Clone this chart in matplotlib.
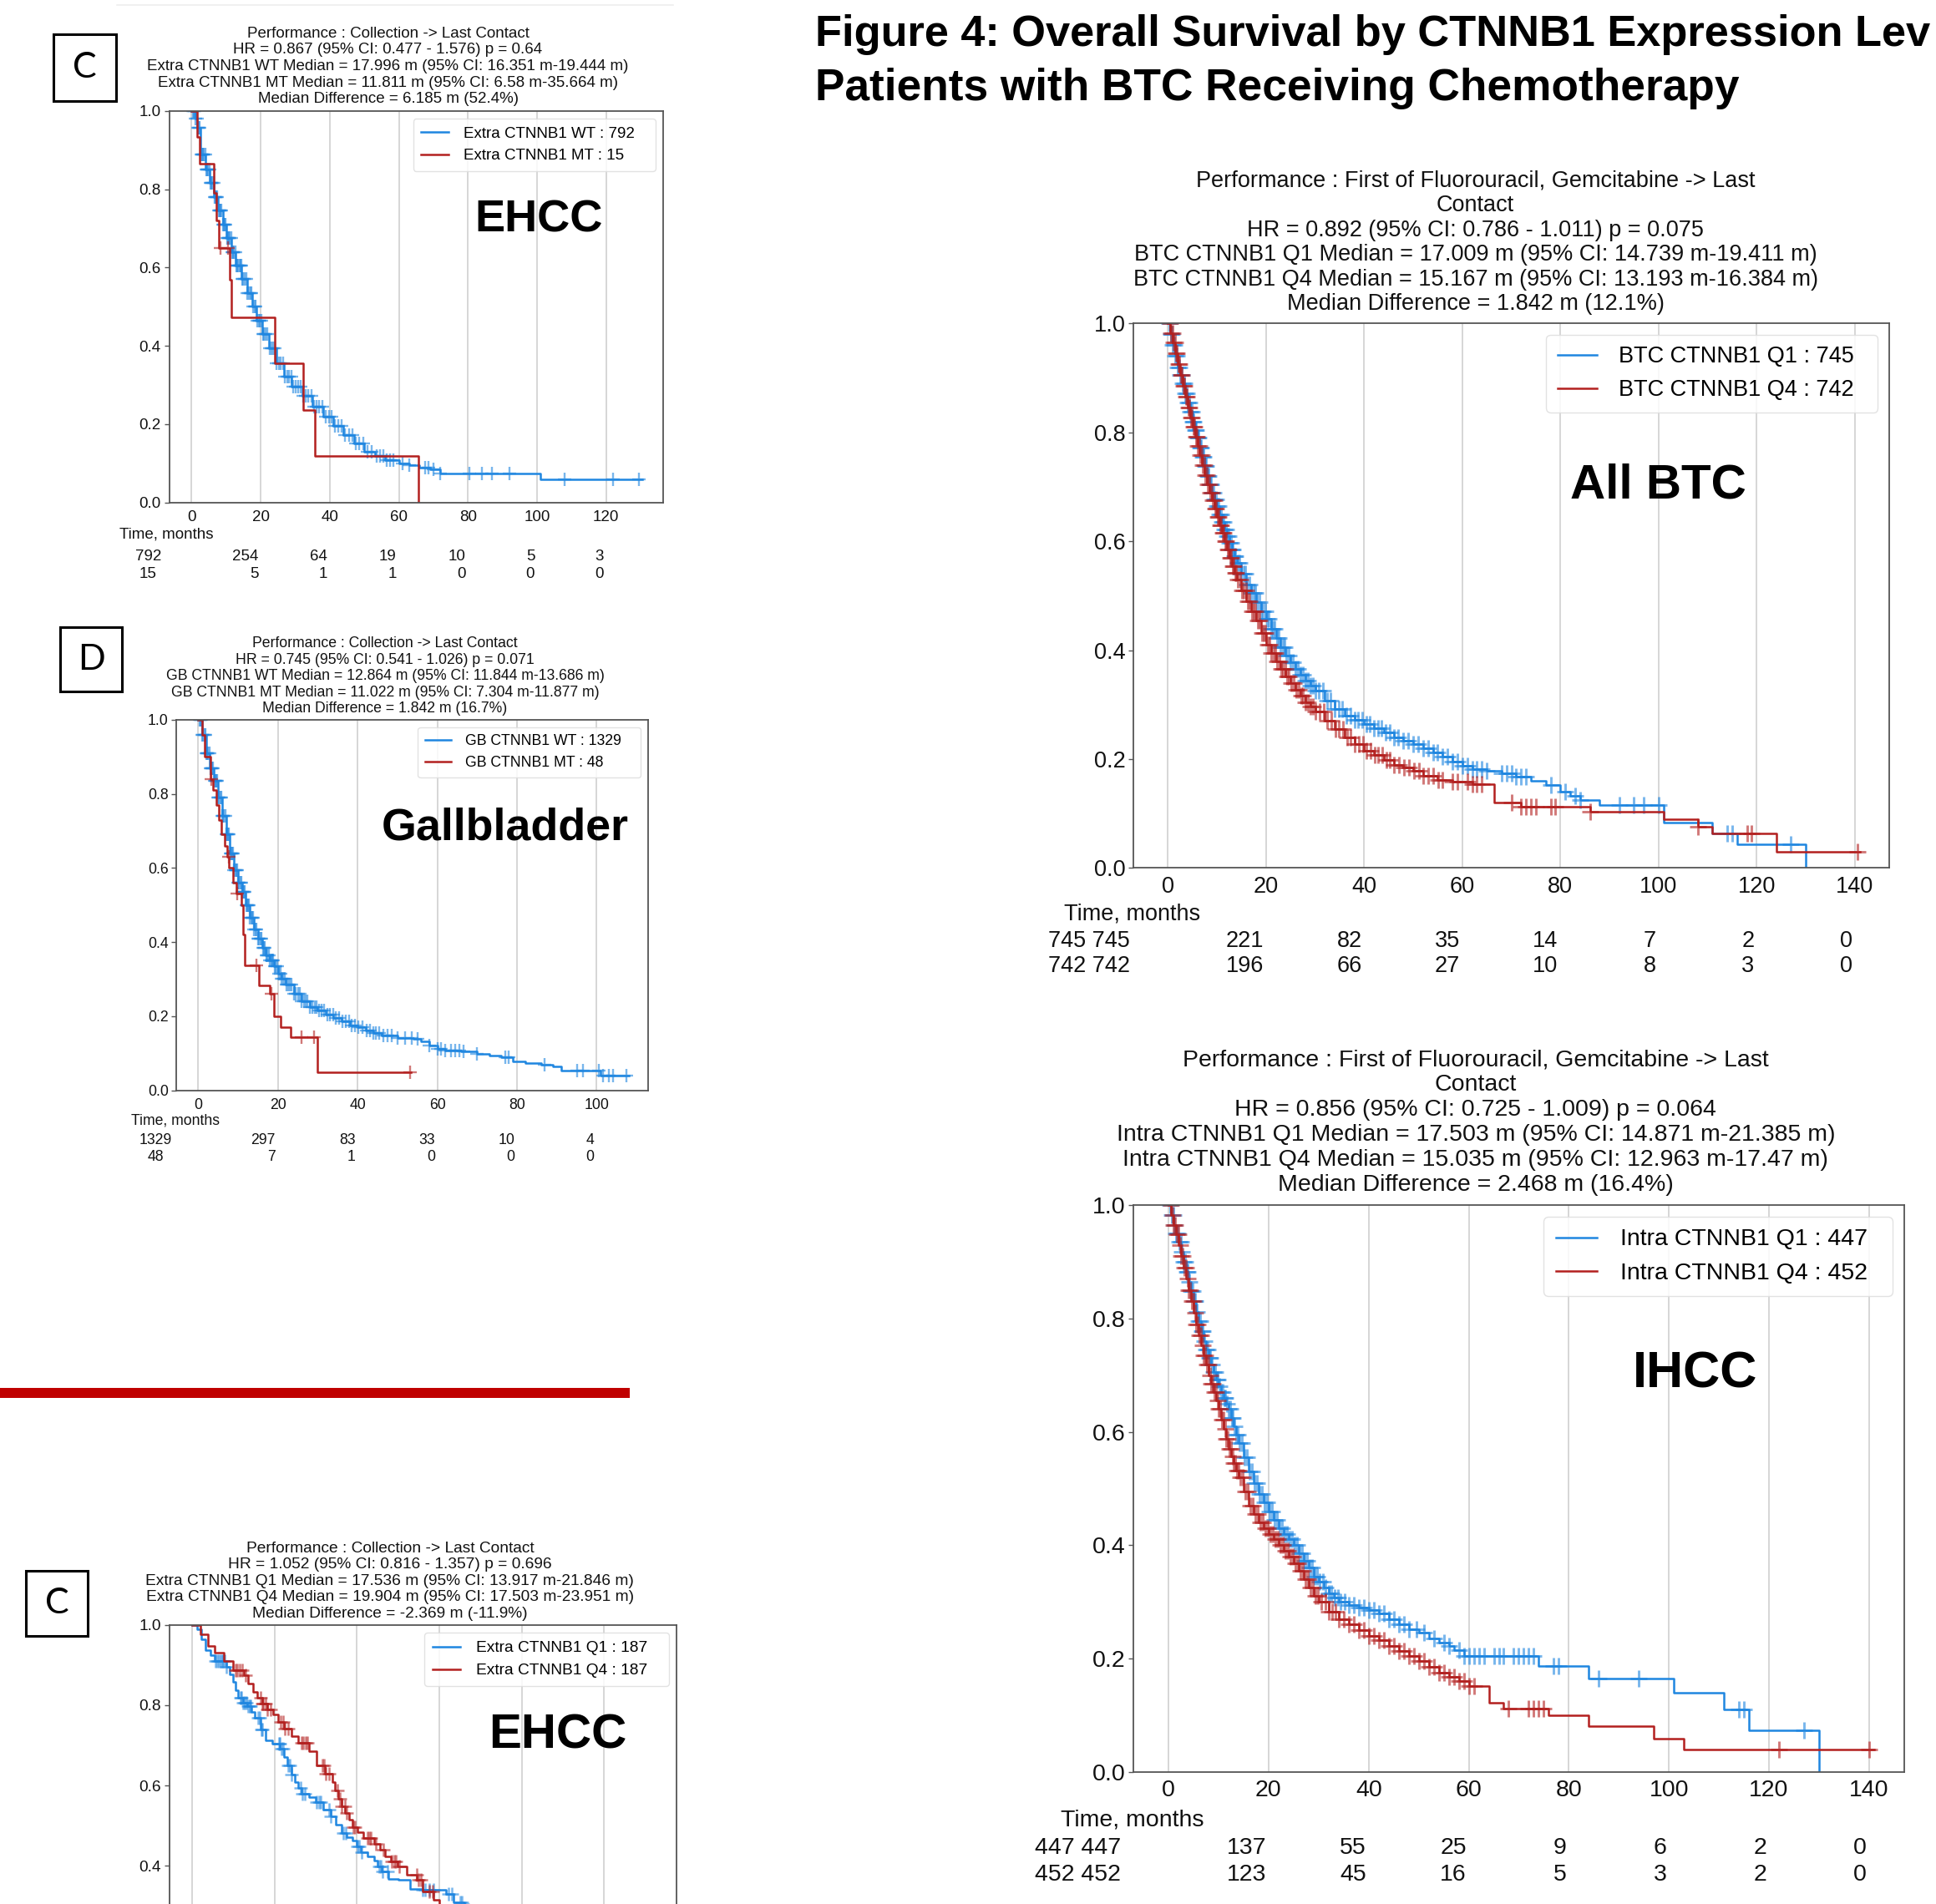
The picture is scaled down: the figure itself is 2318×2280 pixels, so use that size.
import numpy as np
import matplotlib
matplotlib.use("Agg")
import matplotlib.pyplot as plt
import matplotlib.transforms as mtransforms
from matplotlib.patches import Rectangle
from matplotlib.lines import Line2D
from matplotlib.ticker import FormatStrFormatter

plt.rcParams['font.family'] = ['Liberation Sans', 'DejaVu Sans']

BLUE = '#1f86e0'
RED = '#b3201f'

# ---------------- data ----------------
# Top-left: EHCC, CTNNB1 WT vs MT
ehcc_wt_t = [0, 1, 1.6, 2.6, 4, 5.2, 6.5, 7.6, 9, 10, 11.5, 12.8, 14.5, 16, 17.5, 18.8, 20.5, 22.4,
             24.5, 26.8, 29, 32, 35, 38, 41, 44, 47, 50, 53, 56, 60, 63, 66, 69, 72, 101]
ehcc_wt_s = [1.0, 0.98, 0.958, 0.888, 0.85, 0.817, 0.78, 0.746, 0.71, 0.676, 0.64, 0.605, 0.57, 0.534,
             0.50, 0.464, 0.43, 0.393, 0.355, 0.322, 0.295, 0.272, 0.245, 0.22, 0.195, 0.172, 0.15, 0.13,
             0.118, 0.108, 0.10, 0.096, 0.09, 0.085, 0.073, 0.059]
ehcc_wt_end = 130.5
ehcc_wt_cens = [0.3, 0.6, 0.9, 1.2, 1.5, 1.8, 2.1, 2.4, 2.7, 3.0, 3.3, 3.6, 3.9, 4.2, 4.5, 4.8, 5.1, 5.4,
                5.7, 6.0, 6.3, 6.6, 6.9, 7.2, 7.5, 7.8, 8.1, 8.4, 8.7, 9.0, 9.3, 9.6, 9.9, 10.2, 10.5,
                10.8, 11.1, 11.4, 11.7, 12.0, 12.3, 12.6, 12.9, 13.2, 13.5, 13.8, 14.1, 14.4, 14.7, 15.0,
                15.4, 15.8, 16.2, 16.6, 17.0, 17.4, 17.8, 18.2, 18.6, 19.0, 19.4, 19.8, 20.2, 20.6, 21.0,
                21.5, 22.0, 22.5, 23.0, 23.5, 24.0, 24.6, 25.2, 25.8, 26.4, 27.0, 27.6, 28.2, 28.8, 29.5,
                30.2, 30.9, 31.6, 32.3, 33.0, 33.8, 34.6, 35.4, 36.2, 37.0, 37.9, 38.8, 39.7, 40.6, 41.5,
                42.5, 43.5, 44.5, 45.5, 46.5, 47.5, 48.6, 49.7, 51.0, 52.2, 53.5, 54.5, 55.5, 56.5, 57.5,
                58.5, 61.0, 63.0, 67.5, 68.5, 70.0, 72.0, 80.5, 84.0, 87.0, 92.0, 108.0, 122.0, 129.5]
ehcc_mt_t = [0, 1.5, 2.2, 6.4, 7.2, 7.8, 11.0, 11.6, 24.0, 32.2, 35.6, 65.7]
ehcc_mt_s = [1.0, 0.933, 0.865, 0.79, 0.72, 0.65, 0.568, 0.473, 0.356, 0.237, 0.118, 0.0]
ehcc_mt_end = 65.7
ehcc_mt_cens = [8.3, 10.5]
ehcc_ticks = [0, 20, 40, 60, 80, 100, 120]
ehcc_wt_risk = [792, 254, 64, 19, 10, 5, 3]
ehcc_mt_risk = [15, 5, 1, 1, 0, 0, 0]

# Gallbladder, CTNNB1 WT vs MT
gb_wt_t = [0, 1, 2, 3, 4, 5, 6, 7, 8, 9, 10, 11, 12, 13, 14, 15, 16, 17, 18, 19, 20, 21, 22, 24, 26, 28,
           30, 32, 34, 36, 38, 40, 42, 44, 46, 50, 54, 56, 58, 60, 62, 66, 70, 73, 76, 79, 82, 86, 89,
           91, 101]
gb_wt_s = [1.0, 0.96, 0.91, 0.87, 0.835, 0.79, 0.74, 0.69, 0.64, 0.595, 0.56, 0.535, 0.5, 0.465, 0.435,
           0.41, 0.385, 0.365, 0.35, 0.335, 0.315, 0.30, 0.285, 0.26, 0.24, 0.225, 0.215, 0.205, 0.195,
           0.185, 0.175, 0.17, 0.162, 0.155, 0.148, 0.142, 0.138, 0.132, 0.12, 0.112, 0.107, 0.104, 0.098,
           0.093, 0.088, 0.078, 0.073, 0.068, 0.064, 0.054, 0.039]
gb_wt_end = 108
gb_wt_cens = [0.3, 0.55, 0.8, 1.05, 1.3, 1.55, 1.8, 2.05, 2.3, 2.55, 2.8, 3.05, 3.3, 3.55, 3.8, 4.05, 4.3,
              4.55, 4.8, 5.05, 5.3, 5.55, 5.8, 6.05, 6.3, 6.55, 6.8, 7.05, 7.3, 7.55, 7.8, 8.05, 8.3, 8.55,
              8.8, 9.05, 9.3, 9.55, 9.8, 10.05, 10.3, 10.55, 10.8, 11.05, 11.3, 11.55, 11.8, 12.05, 12.3,
              12.55, 12.8, 13.05, 13.3, 13.55, 13.8, 14.1, 14.4, 14.7, 15.0, 15.3, 15.6, 15.9, 16.2, 16.5,
              16.8, 17.1, 17.4, 17.7, 18.0, 18.3, 18.6, 18.9, 19.2, 19.5, 19.8, 20.2, 20.6, 21.0, 21.4,
              21.8, 22.2, 22.6, 23.0, 23.5, 24.0, 24.5, 25.0, 25.5, 26.0, 26.5, 27.0, 27.5, 28.0, 28.6,
              29.2, 29.8, 30.4, 31.0, 31.7, 32.4, 33.1, 33.8, 34.6, 35.4, 36.2, 37.0, 37.8, 38.6, 39.4,
              40.2, 41.2, 42.2, 43.2, 44.0, 44.6, 45.5, 46.5, 47.5, 48.5, 50.0, 52.0, 53.5, 55.0, 58.0,
              60.0, 61.0, 62.0, 63.5, 64.5, 65.5, 66.5, 70.0, 77.0, 78.0, 87.0, 95.0, 96.5, 100.5, 101.5,
              103.0, 104.0, 107.5]
gb_mt_t = [0, 1.0, 1.7, 3.2, 3.7, 4.5, 5.2, 5.9, 6.6, 7.4, 7.8, 8.8, 9.5, 10.8, 11.3, 11.7, 15.3, 18.0,
           19.0, 20.8, 23.2, 30.0]
gb_mt_s = [1.0, 0.96, 0.90, 0.84, 0.81, 0.77, 0.73, 0.69, 0.66, 0.63, 0.60, 0.56, 0.53, 0.50, 0.42,
           0.336, 0.284, 0.26, 0.20, 0.17, 0.144, 0.049]
gb_mt_end = 53.4
gb_mt_cens = [3.3, 7.7, 9.9, 14.6, 18.3, 26.0, 29.0, 53.2]
gb_ticks = [0, 20, 40, 60, 80, 100]
gb_wt_risk = [1329, 297, 83, 33, 10, 4]
gb_mt_risk = [48, 7, 1, 0, 0, 0]

# Bottom-left: EHCC, CTNNB1 Q1 vs Q4
eq1_t = [0, 1.1, 2.2, 3.3, 4.4, 5.5, 8.2, 9.0, 9.9, 10.5, 11.2, 12.3, 13.4, 14.3, 15.2, 16.5, 17.8, 19.5,
         21.3, 22.2, 23.1, 24.0, 24.8, 25.7, 26.6, 28.3, 30.0, 31.8, 33.6, 34.9, 36.2, 37.5, 38.9, 40.0,
         41.0, 42.5, 44.1, 45.0, 45.9, 47.6, 50.0, 52.9, 56, 61.7, 63.4, 66.0]
eq1_s = [1.0, 0.99, 0.965, 0.937, 0.925, 0.91, 0.896, 0.876, 0.857, 0.838, 0.818, 0.806, 0.797, 0.783,
         0.769, 0.74, 0.713, 0.703, 0.692, 0.67, 0.65, 0.628, 0.608, 0.594, 0.58, 0.57, 0.559, 0.54, 0.524,
         0.503, 0.482, 0.472, 0.462, 0.448, 0.434, 0.423, 0.413, 0.399, 0.385, 0.367, 0.364, 0.343, 0.34,
         0.329, 0.308, 0.29]
eq1_end = 70
eq1_cens = [5.6, 6.0, 6.4, 6.8, 7.2, 7.5, 7.9, 8.3, 11.8, 12.0, 12.4, 12.8, 13.1, 13.5, 13.9, 14.2, 16.0,
            16.3, 16.7, 17.0, 21.0, 21.2, 21.6, 22.0, 23.3, 23.7, 24.0, 26.3, 26.8, 27.3, 30.2, 30.7,
            31.2, 33.2, 33.6, 36.7, 37.2, 40.2, 40.6, 41.2, 45.4, 45.8, 46.2, 47.5, 56.0, 56.5, 57.5,
            58.5, 62.2, 63.0, 65.0, 65.5, 66.0, 67.0]
eq4_t = [0, 2.0, 3.8, 5.5, 7.7, 9.9, 12.5, 13.6, 14.7, 15.8, 16.9, 18.3, 19.6, 20.9, 22.2, 24.0, 25.7,
         28.3, 30.1, 32.3, 34.0, 34.7, 35.4, 36.3, 37.1, 38.0, 38.9, 40.2, 41.5, 44.1, 45.5, 46.8, 48.3,
         49.8, 52.0, 54.6, 55.9, 58.6, 60.0]
eq4_s = [1.0, 0.976, 0.948, 0.93, 0.91, 0.888, 0.874, 0.853, 0.832, 0.818, 0.804, 0.79, 0.776, 0.758,
         0.741, 0.723, 0.706, 0.685, 0.65, 0.629, 0.608, 0.587, 0.566, 0.548, 0.531, 0.514, 0.497, 0.483,
         0.469, 0.455, 0.44, 0.424, 0.411, 0.399, 0.378, 0.364, 0.336, 0.315, 0.29]
eq4_end = 64
eq4_cens = [10.6, 11.0, 11.6, 12.2, 13.0, 16.5, 16.9, 17.2, 17.8, 18.3, 19.0, 21.5, 22.0, 22.5, 23.2, 26.6,
            27.0, 27.5, 28.0, 31.5, 32.0, 32.5, 33.3, 35.2, 35.8, 36.3, 37.0, 37.5, 39.0, 39.4, 42.5,
            43.0, 43.3, 44.5, 46.3, 48.5, 49.0, 49.5, 50.3, 54.5, 55.0, 55.5, 57.5, 58.3]
eq_ticks = [0, 20, 40, 60, 80, 100]

# All BTC, CTNNB1 Q1 vs Q4
btc_q1_t = [0, 0.5, 1, 1.5, 2, 2.5, 3, 3.5, 4, 4.5, 5, 5.5, 6, 6.5, 7, 7.5, 8, 8.5, 9, 9.5, 10, 10.5,
            11, 11.5, 12, 12.5, 13, 13.5, 14, 15, 16, 17, 18, 19, 20, 21, 22, 23, 24, 25, 26, 27, 28, 29,
            30, 32, 34, 36, 38, 40, 42, 44, 46, 48, 50, 52, 54, 56, 58, 60, 62, 65, 68, 71, 74, 77, 80,
            82, 84, 88, 101, 111, 116, 130]
btc_q1_s = [1.0, 0.98, 0.96, 0.94, 0.92, 0.905, 0.89, 0.872, 0.855, 0.838, 0.82, 0.805, 0.79, 0.772,
            0.755, 0.738, 0.72, 0.705, 0.69, 0.677, 0.665, 0.65, 0.635, 0.622, 0.61, 0.597, 0.585, 0.572,
            0.56, 0.54, 0.52, 0.505, 0.488, 0.472, 0.458, 0.44, 0.422, 0.405, 0.39, 0.378, 0.366, 0.355,
            0.344, 0.335, 0.326, 0.308, 0.292, 0.28, 0.272, 0.265, 0.257, 0.249, 0.24, 0.234, 0.228, 0.22,
            0.212, 0.205, 0.195, 0.188, 0.182, 0.178, 0.174, 0.168, 0.16, 0.152, 0.14, 0.132, 0.125,
            0.116, 0.084, 0.064, 0.044, 0.0]
btc_q1_end = 130
btc_q1_cens = [0.3, 0.55, 0.8, 1.05, 1.3, 1.55, 1.8, 2.05, 2.3, 2.55, 2.8, 3.05, 3.3, 3.55, 3.8, 4.05,
               4.3, 4.55, 4.8, 5.05, 5.3, 5.55, 5.8, 6.05, 6.3, 6.55, 6.8, 7.05, 7.3, 7.55, 7.8, 8.05,
               8.3, 8.55, 8.8, 9.05, 9.3, 9.55, 9.8, 10.05, 10.3, 10.55, 10.8, 11.05, 11.3, 11.55, 11.8,
               12.05, 12.3, 12.55, 12.8, 13.05, 13.3, 13.55, 13.8, 14.2, 14.6, 15.0, 15.4, 15.8, 16.2,
               16.6, 17.0, 17.4, 17.8, 18.2, 18.6, 19.0, 19.4, 19.8, 20.2, 20.6, 21.0, 21.4, 21.8, 22.2,
               22.6, 23.0, 23.4, 23.8, 24.2, 24.6, 25.0, 25.5, 26.0, 26.5, 27.0, 27.5, 28.0, 28.5, 29.0,
               29.5, 30.0, 30.8, 31.6, 32.4, 33.2, 34.0, 34.8, 35.6, 36.4, 37.2, 38.0, 38.8, 39.6, 40.4,
               41.2, 42.0, 42.8, 43.6, 44.4, 45.2, 46.0, 47.0, 48.0, 49.0, 50.0, 51.0, 52.0, 53.0, 54.0,
               55.0, 56.0, 57.0, 58.0, 59.0, 60.0, 61, 62, 63, 64, 65, 68, 69, 70, 71, 72, 73, 78, 81,
               83, 84, 92, 95, 97, 100, 114, 115, 127]
btc_q4_t = [0, 0.5, 1, 1.5, 2, 2.5, 3, 3.5, 4, 4.5, 5, 5.5, 6, 6.5, 7, 7.5, 8, 8.5, 9, 9.5, 10, 10.5,
            11, 11.5, 12, 12.5, 13, 13.5, 14, 15, 16, 17, 18, 19, 20, 21, 22, 23, 24, 25, 26, 27, 28, 29,
            30, 32, 34, 36, 38, 40, 42, 44, 46, 48, 50, 52, 55, 58, 62, 66.5, 72, 86, 101, 108, 111, 124]
btc_q4_s = [1.0, 0.982, 0.965, 0.945, 0.925, 0.905, 0.885, 0.865, 0.845, 0.828, 0.81, 0.792, 0.775,
            0.758, 0.74, 0.722, 0.705, 0.69, 0.675, 0.66, 0.645, 0.63, 0.615, 0.60, 0.585, 0.57, 0.555,
            0.542, 0.53, 0.51, 0.49, 0.472, 0.455, 0.432, 0.41, 0.395, 0.38, 0.365, 0.352, 0.34, 0.328,
            0.316, 0.305, 0.296, 0.288, 0.27, 0.255, 0.24, 0.228, 0.216, 0.207, 0.198, 0.19, 0.184, 0.178,
            0.17, 0.162, 0.158, 0.154, 0.12, 0.112, 0.104, 0.09, 0.076, 0.064, 0.03]
btc_q4_end = 141
btc_q4_cens = [0.4, 0.65, 0.9, 1.15, 1.4, 1.65, 1.9, 2.15, 2.4, 2.65, 2.9, 3.15, 3.4, 3.65, 3.9, 4.15,
               4.4, 4.65, 4.9, 5.15, 5.4, 5.65, 5.9, 6.15, 6.4, 6.65, 6.9, 7.15, 7.4, 7.65, 7.9, 8.15,
               8.4, 8.65, 8.9, 9.15, 9.4, 9.65, 9.9, 10.15, 10.4, 10.65, 10.9, 11.15, 11.4, 11.65, 11.9,
               12.15, 12.4, 12.65, 12.9, 13.15, 13.4, 13.65, 13.9, 14.3, 14.7, 15.1, 15.5, 15.9, 16.3,
               16.7, 17.1, 17.5, 17.9, 18.3, 18.7, 19.1, 19.5, 19.9, 20.3, 20.7, 21.1, 21.5, 21.9, 22.3,
               22.7, 23.1, 23.5, 23.9, 24.3, 24.7, 25.1, 25.6, 26.1, 26.6, 27.1, 27.6, 28.1, 28.6, 29.1,
               29.6, 30.1, 30.9, 31.7, 32.5, 33.3, 34.1, 34.9, 35.7, 36.5, 37.3, 38.1, 38.9, 39.7, 40.5,
               41.3, 42.1, 42.9, 43.7, 44.5, 45.3, 46.1, 47.1, 48.1, 49.1, 50.1, 51.1, 52.1, 53.1, 54.1,
               55.1, 56, 58, 59, 61, 62, 63, 64, 70, 72, 73, 74, 75, 78, 79, 86, 108, 118, 119, 140.5]
btc_ticks = [0, 20, 40, 60, 80, 100, 120, 140]
btc_q1_risk = [745, 221, 82, 35, 14, 7, 2, 0]
btc_q4_risk = [742, 196, 66, 27, 10, 8, 3, 0]

# IHCC, CTNNB1 Q1 vs Q4
ih_q1_t = [0, 0.5, 1, 1.5, 2, 2.5, 3, 3.5, 4, 4.5, 5, 5.5, 6, 6.5, 7, 7.5, 8, 8.5, 9, 9.5, 10, 10.5, 11,
           11.5, 12, 12.5, 13, 13.5, 14, 15, 16, 17, 18, 19, 20, 21, 22, 23, 24, 25, 26, 27, 28, 29, 30,
           31, 32, 33, 34, 36, 38, 40, 42, 44, 46, 48, 50, 52, 54, 56, 57, 59, 74, 84, 101, 111, 116, 130]
ih_q1_s = [1.0, 0.982, 0.965, 0.95, 0.935, 0.918, 0.9, 0.882, 0.865, 0.848, 0.83, 0.812, 0.795, 0.778,
           0.76, 0.745, 0.73, 0.718, 0.705, 0.692, 0.68, 0.67, 0.66, 0.65, 0.64, 0.625, 0.61, 0.595, 0.58,
           0.555, 0.53, 0.51, 0.49, 0.475, 0.46, 0.445, 0.43, 0.42, 0.41, 0.40, 0.385, 0.372, 0.36, 0.345,
           0.335, 0.325, 0.315, 0.308, 0.30, 0.295, 0.29, 0.285, 0.28, 0.27, 0.26, 0.252, 0.245, 0.235,
           0.228, 0.222, 0.215, 0.205, 0.187, 0.165, 0.14, 0.11, 0.073, 0.0]
ih_q1_end = 130
ih_q1_cens = [0.3, 0.6, 0.9, 1.2, 1.5, 1.8, 2.1, 2.4, 2.7, 3.0, 3.3, 3.6, 3.9, 4.2, 4.5, 4.8, 5.1, 5.4,
              5.7, 6.0, 6.3, 6.6, 6.9, 7.2, 7.5, 7.8, 8.1, 8.4, 8.7, 9.0, 9.3, 9.6, 9.9, 10.2, 10.5, 10.8,
              11.1, 11.4, 11.7, 12.0, 12.3, 12.6, 12.9, 13.2, 13.5, 13.8, 14.2, 14.7, 15.2, 15.7, 16.2,
              16.7, 17.2, 17.7, 18.2, 18.7, 19.2, 19.7, 20.2, 20.7, 21.2, 21.7, 22.2, 22.7, 23.2, 23.7,
              24.2, 24.7, 25.2, 25.7, 26.2, 26.7, 27.2, 27.7, 28.2, 28.7, 29.2, 29.7, 30.2, 30.8, 31.4,
              32.0, 32.6, 33.2, 33.8, 34.4, 35.2, 36.0, 37.0, 38.0, 39.0, 40.0, 41.0, 42.0, 43.0, 44.0,
              45.0, 46.0, 47.0, 48.0, 49.5, 51.0, 53.0, 55, 56, 58, 59, 60, 61, 62, 63, 65, 66, 67, 69,
              70, 71, 72, 73, 77, 78, 86, 94, 114, 115, 127]
ih_q4_t = [0, 0.5, 1, 1.5, 2, 2.5, 3, 3.5, 4, 4.5, 5, 5.5, 6, 6.5, 7, 7.5, 8, 8.5, 9, 9.5, 10, 10.5, 11,
           11.5, 12, 12.5, 13, 13.5, 14, 15, 16, 17, 18, 19, 20, 21, 22, 23, 24, 25, 26, 27, 28, 29, 30,
           32, 34, 36, 38, 40, 42, 44, 46, 48, 50, 52, 54, 56, 58, 60, 64, 67, 76, 84, 97, 103]
ih_q4_s = [1.0, 0.982, 0.965, 0.948, 0.93, 0.91, 0.89, 0.87, 0.85, 0.83, 0.81, 0.79, 0.77, 0.752, 0.735,
           0.718, 0.70, 0.685, 0.67, 0.655, 0.64, 0.622, 0.605, 0.588, 0.57, 0.557, 0.545, 0.532, 0.52,
           0.495, 0.47, 0.455, 0.44, 0.43, 0.42, 0.41, 0.40, 0.39, 0.38, 0.368, 0.355, 0.34, 0.325, 0.31,
           0.30, 0.283, 0.27, 0.26, 0.25, 0.24, 0.232, 0.222, 0.213, 0.205, 0.195, 0.185, 0.175, 0.167,
           0.16, 0.152, 0.122, 0.112, 0.10, 0.08, 0.058, 0.04]
ih_q4_end = 141
ih_q4_cens = [0.45, 0.75, 1.05, 1.35, 1.65, 1.95, 2.25, 2.55, 2.85, 3.15, 3.45, 3.75, 4.05, 4.35, 4.65,
              4.95, 5.25, 5.55, 5.85, 6.15, 6.45, 6.75, 7.05, 7.35, 7.65, 7.95, 8.25, 8.55, 8.85, 9.15,
              9.45, 9.75, 10.05, 10.35, 10.65, 10.95, 11.25, 11.55, 11.85, 12.15, 12.45, 12.75, 13.05,
              13.35, 13.65, 13.95, 14.4, 14.9, 15.4, 15.9, 16.4, 16.9, 17.4, 17.9, 18.4, 18.9, 19.4,
              19.9, 20.4, 20.9, 21.4, 21.9, 22.4, 22.9, 23.4, 23.9, 24.4, 24.9, 25.4, 25.9, 26.4, 26.9,
              27.4, 27.9, 28.4, 28.9, 29.4, 29.9, 30.6, 31.3, 32.0, 32.7, 33.4, 34.1, 35.0, 36.0, 37.0,
              38.0, 39.0, 40.0, 41.0, 42.0, 43.0, 44.0, 45.0, 46.0, 47.0, 48.0, 49.0, 50, 51, 52, 53, 54,
              55, 56, 57, 58, 59, 60, 61, 68, 72, 73, 74, 75, 122, 140]
ih_ticks = [0, 20, 40, 60, 80, 100, 120, 140]
ih_q1_risk = [447, 137, 55, 25, 9, 6, 2, 0]
ih_q4_risk = [452, 123, 45, 16, 5, 3, 2, 0]

# ---------------- helpers ----------------
fig = plt.figure(figsize=(23.18, 22.80), dpi=100)


def km(ax, t, s, t_end, cens, color, label, ms, mew):
    t = np.asarray(t, float)
    s = np.asarray(s, float)
    x = np.append(t, t_end)
    y = np.append(s, s[-1])
    ax.step(x, y, where='post', color=color, lw=1.8, label=label)
    c = np.asarray(cens, float)
    cy = s[np.searchsorted(t, c, side='right') - 1]
    ax.plot(c, cy, ls='none', marker='+', ms=ms, mew=mew, color=color, alpha=0.6)


def setup(ax, xlim, ticks, fs, yticks=(0, 0.2, 0.4, 0.6, 0.8, 1.0)):
    ax.set_xlim(*xlim)
    ax.set_ylim(0, 1)
    ax.set_xticks(ticks)
    ax.set_yticks(list(yticks))
    ax.yaxis.set_major_formatter(FormatStrFormatter('%.1f'))
    ax.grid(axis='x', color='#cccccc', lw=1.1)
    ax.set_axisbelow(True)
    for sp in ax.spines.values():
        sp.set_color('#555555')
        sp.set_linewidth(1.3)
    ax.tick_params(axis='x', length=0, pad=7, labelsize=fs, labelcolor='#111111')
    ax.tick_params(axis='y', length=4, width=1, pad=3, labelsize=fs, color='#555555', labelcolor='#111111')


def head(ax, text, cx, fs, dy, ls):
    ax.text(cx, 1 + dy, text, transform=ax.transAxes, ha='center', va='bottom',
            fontsize=fs, linespacing=ls, multialignment='center', color='#111111')


def at_risk(ax, ticks, rows, first, first_x, lab_x, ys, fs):
    tr = mtransforms.offset_copy(mtransforms.blended_transform_factory(ax.transData, ax.transAxes),
                                 fig=fig, x=-2, y=0, units='points')
    ax.text(lab_x, ys[0], 'Time, months', transform=ax.transAxes, ha='left', va='center',
            fontsize=fs, color='#111111')
    for row, f, y in zip(rows, first, ys[1:]):
        ax.text(first_x, y, f, transform=ax.transAxes, ha='center', va='center', fontsize=fs,
                color='#111111')
        for x, v in zip(ticks[1:], row[1:]):
            ax.text(x, y, str(v), transform=tr, ha='right', va='center', fontsize=fs, color='#111111')


def legend(ax, fs):
    ax.legend(loc='upper right', fontsize=fs, frameon=True, fancybox=True, framealpha=0.85,
              edgecolor='#dddddd', handlelength=1.75, handletextpad=0.95, borderpad=0.5,
              labelspacing=0.5)


def big(ax, x, y, text, fs):
    ax.text(x, y, text, transform=ax.transAxes, ha='center', va='center', fontsize=fs,
            fontweight='bold', color='black')


def letter_box(x0, y0, w, h, letter):
    fig.add_artist(Rectangle((x0, y0), w, h, transform=fig.transFigure, fill=False,
                             lw=2.2, edgecolor='black'))
    fig.text(x0 + w / 2, y0 + h / 2, letter, ha='center', va='center', fontsize=31,
             family=['Lato', 'DejaVu Sans'])


# ---------------- top-left EHCC (WT vs MT) ----------------
fsA = 13.5
axA = fig.add_axes([0.0874, 0.7361, 0.2551, 0.2056])
km(axA, ehcc_wt_t, ehcc_wt_s, ehcc_wt_end, ehcc_wt_cens, BLUE, 'Extra CTNNB1 WT : 792   ', 11, 1.7)
km(axA, ehcc_mt_t, ehcc_mt_s, ehcc_mt_end, ehcc_mt_cens, RED, 'Extra CTNNB1 MT : 15', 11, 1.7)
setup(axA, (-6.5, 136.5), ehcc_ticks, fsA)
legend(axA, fsA)
head(axA, "Performance : Collection -> Last Contact\n"
          "HR = 0.867 (95% CI: 0.477 - 1.576) p = 0.64\n"
          "Extra CTNNB1 WT Median = 17.996 m (95% CI: 16.351 m-19.444 m)\n"
          "Extra CTNNB1 MT Median = 11.811 m (95% CI: 6.58 m-35.664 m)\n"
          "Median Difference = 6.185 m (52.4%)", 0.443, fsA, 0.012, 1.2)
big(axA, 0.7475, 0.722, 'EHCC', 39)
at_risk(axA, ehcc_ticks, [ehcc_wt_risk, ehcc_mt_risk], ['792', '15'], -0.0425, -0.1,
        [-0.082, -0.138, -0.183], fsA)
letter_box(0.02742, 0.94682, 0.03253, 0.03502, 'C')

# ---------------- Gallbladder ----------------
fsD = 12.7
axD = fig.add_axes([0.0912, 0.4274, 0.2436, 0.1946])
km(axD, gb_wt_t, gb_wt_s, gb_wt_end, gb_wt_cens, BLUE, 'GB CTNNB1 WT : 1329   ', 11, 1.7)
km(axD, gb_mt_t, gb_mt_s, gb_mt_end, gb_mt_cens, RED, 'GB CTNNB1 MT : 48', 11, 1.7)
setup(axD, (-5.4, 112.9), gb_ticks, fsD)
legend(axD, fsD)
head(axD, "Performance : Collection -> Last Contact\n"
          "HR = 0.745 (95% CI: 0.541 - 1.026) p = 0.071\n"
          "GB CTNNB1 WT Median = 12.864 m (95% CI: 11.844 m-13.686 m)\n"
          "GB CTNNB1 MT Median = 11.022 m (95% CI: 7.304 m-11.877 m)\n"
          "Median Difference = 1.842 m (16.7%)", 0.442, fsD, 0.01, 1.2)
big(axD, 0.696, 0.707, 'Gallbladder', 38.7)
at_risk(axD, gb_ticks, [gb_wt_risk, gb_mt_risk], ['1329', '48'], -0.0445, -0.097,
        [-0.083, -0.135, -0.18], fsD)
letter_box(0.03125, 0.63684, 0.03189, 0.03372, 'D')

# red separator
fig.add_artist(Rectangle((0, 0.2659), 0.3253, 0.0052, transform=fig.transFigure,
                         color='#c00000', lw=0))
fig.add_artist(Line2D([95 / 1568, 545 / 1568], [1 - 4 / 1542, 1 - 4 / 1542],
                      transform=fig.transFigure, color='#eeeeee', lw=1.2))

# ---------------- bottom-left EHCC (Q1 vs Q4) ----------------
fsE = 13.8
axE = fig.add_axes([0.0874, -0.0642, 0.2621, 0.2108])
km(axE, eq1_t, eq1_s, eq1_end, eq1_cens, BLUE, 'Extra CTNNB1 Q1 : 187   ', 12, 1.8)
km(axE, eq4_t, eq4_s, eq4_end, eq4_cens, RED, 'Extra CTNNB1 Q4 : 187', 12, 1.8)
setup(axE, (-5.6, 117.6), eq_ticks, fsE, yticks=(0.4, 0.6, 0.8, 1.0))
axE.tick_params(axis='x', labelbottom=False)
legend(axE, fsE)
head(axE, "Performance : Collection -> Last Contact\n"
          "HR = 1.052 (95% CI: 0.816 - 1.357) p = 0.696\n"
          "Extra CTNNB1 Q1 Median = 17.536 m (95% CI: 13.917 m-21.846 m)\n"
          "Extra CTNNB1 Q4 Median = 19.904 m (95% CI: 17.503 m-23.951 m)\n"
          "Median Difference = -2.369 m (-11.9%)", 0.435, fsE, 0.01, 1.2)
big(axE, 0.766, 0.723, 'EHCC', 42)
letter_box(0.01339, 0.14073, 0.03189, 0.03437, 'C')

# ---------------- All BTC ----------------
fsB = 19.5
axB = fig.add_axes([0.5855, 0.5441, 0.3903, 0.2860])
km(axB, btc_q1_t, btc_q1_s, btc_q1_end, btc_q1_cens, BLUE, 'BTC CTNNB1 Q1 : 745  ', 14, 2.1)
km(axB, btc_q4_t, btc_q4_s, btc_q4_end, btc_q4_cens, RED, 'BTC CTNNB1 Q4 : 742  ', 14, 2.1)
setup(axB, (-7, 147), btc_ticks, fsB)
legend(axB, fsB)
head(axB, "Performance : First of Fluorouracil, Gemcitabine -> Last\nContact\n"
          "HR = 0.892 (95% CI: 0.786 - 1.011) p = 0.075\n"
          "BTC CTNNB1 Q1 Median = 17.009 m (95% CI: 14.739 m-19.411 m)\n"
          "BTC CTNNB1 Q4 Median = 15.167 m (95% CI: 13.193 m-16.384 m)\n"
          "Median Difference = 1.842 m (12.1%)", 0.4526, fsB, 0.016, 1.17)
big(axB, 0.694, 0.703, 'All BTC', 42)
at_risk(axB, btc_ticks, [btc_q1_risk, btc_q4_risk],
        ['%d %d' % (745, btc_q1_risk[0]), '%d %d' % (742, btc_q4_risk[0])], -0.059, -0.0915,
        [-0.084, -0.134, -0.181], fsB)

# ---------------- IHCC ----------------
fsC = 20.5
axC = fig.add_axes([0.5855, 0.0694, 0.3980, 0.2977])
km(axC, ih_q1_t, ih_q1_s, ih_q1_end, ih_q1_cens, BLUE, 'Intra CTNNB1 Q1 : 447  ', 14, 2.1)
km(axC, ih_q4_t, ih_q4_s, ih_q4_end, ih_q4_cens, RED, 'Intra CTNNB1 Q4 : 452  ', 14, 2.1)
setup(axC, (-7, 147), ih_ticks, fsC)
legend(axC, fsC)
head(axC, "Performance : First of Fluorouracil, Gemcitabine -> Last\nContact\n"
          "HR = 0.856 (95% CI: 0.725 - 1.009) p = 0.064\n"
          "Intra CTNNB1 Q1 Median = 17.503 m (95% CI: 14.871 m-21.385 m)\n"
          "Intra CTNNB1 Q4 Median = 15.035 m (95% CI: 12.963 m-17.47 m)\n"
          "Median Difference = 2.468 m (16.4%)", 0.444, fsC, 0.016, 1.2)
big(axC, 0.729, 0.7015, 'IHCC', 44)
at_risk(axC, ih_ticks, [ih_q1_risk, ih_q4_risk],
        ['%d %d' % (447, ih_q1_risk[0]), '%d %d' % (452, ih_q4_risk[0])], -0.072, -0.0946,
        [-0.085, -0.135, -0.181], fsC)

# ---------------- figure title ----------------
fig.text(0.4209, 0.9818, 'Figure 4: Overall Survival by CTNNB1 Expression Lev', ha='left', va='center',
         fontsize=37.7, fontweight='bold')
fig.text(0.4209, 0.9533, 'Patients with BTC Receiving Chemotherapy', ha='left', va='center',
         fontsize=38.3, fontweight='bold')

fig.savefig('out.png', dpi=100, facecolor='white')
